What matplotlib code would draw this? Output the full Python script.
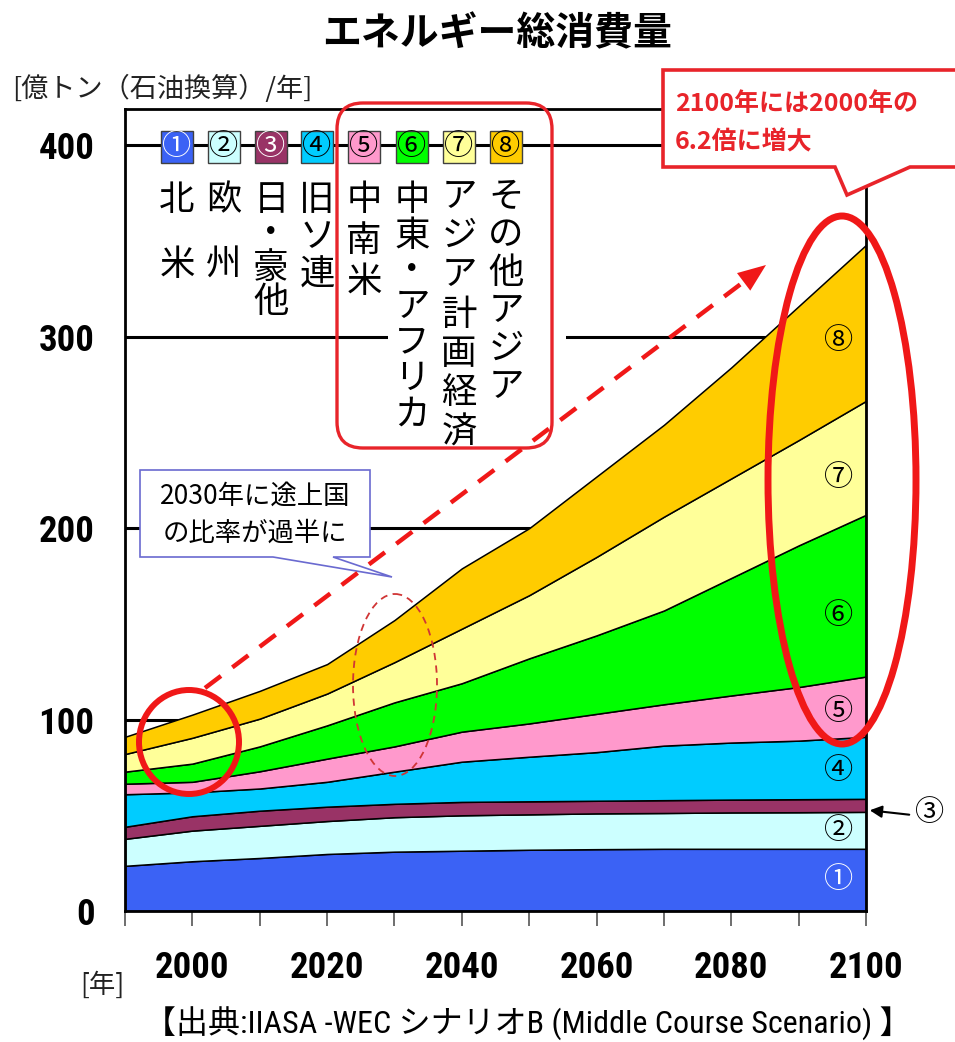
import matplotlib
matplotlib.use('Agg')
import matplotlib.pyplot as plt
import numpy as np
from matplotlib.patches import Rectangle, Polygon, Ellipse, FancyBboxPatch
from matplotlib import font_manager as fm

# ---------------- data (億トン石油換算/年) ----------------
years = [1990, 2000, 2010, 2020, 2030, 2040, 2050, 2060, 2070, 2080, 2090, 2100]
north_america = [23.6, 26.0, 27.7, 29.8, 31.0, 31.5, 32.0, 32.3, 32.5, 32.5, 32.5, 32.5]
europe        = [14.1, 16.0, 16.8, 17.2, 18.0, 18.5, 18.5, 18.7, 18.7, 19.0, 19.1, 19.3]
japan_aus     = [6.3, 7.5, 7.9, 7.5, 7.0, 7.0, 6.8, 6.6, 6.7, 6.7, 6.8, 6.8]
former_ussr   = [17.0, 12.5, 11.6, 13.0, 16.8, 21.0, 23.3, 25.4, 28.5, 29.8, 30.6, 32.4]
latin_america = [5.5, 5.5, 9.0, 12.1, 13.2, 15.7, 17.4, 20.0, 21.6, 24.6, 28.0, 31.5]
mideast_africa = [6.3, 9.5, 13.0, 17.4, 23.0, 25.3, 34.0, 41.0, 49.0, 61.4, 74.0, 84.5]
asia_planned  = [9.2, 13.5, 14.5, 16.6, 21.0, 28.5, 33.0, 41.0, 49.0, 52.0, 55.0, 59.5]
other_asia    = [9.0, 12.1, 14.5, 15.4, 22.0, 31.5, 35.0, 42.0, 48.0, 58.0, 70.0, 81.5]

series = [north_america, europe, japan_aus, former_ussr,
          latin_america, mideast_africa, asia_planned, other_asia]
region_names = ['北米', '欧州', '日・豪他', '旧ソ連', '中南米',
                '中東・アフリカ', 'アジア計画経済', 'その他アジア']
marks = ['①', '②', '③', '④', '⑤', '⑥', '⑦', '⑧']
colors = ['#3B62F5', '#CCFFFF', '#993366', '#00CCFF',
          '#FF99CC', '#00FF00', '#FFFF99', '#FFCC00']
mark_colors = ['white', 'black', 'white', 'black', 'black', 'black', 'black', 'black']

ytick_vals = [0, 100, 200, 300, 400]
xtick_major = [2000, 2020, 2040, 2060, 2080, 2100]
xtick_minor = list(range(1990, 2101, 10))

# in-area labels (value position near 2100)
inarea_marks = ['①', '②', '④', '⑤', '⑥', '⑦', '⑧']
inarea_y = [16, 42, 73, 104, 154, 226, 298]
inarea_col = ['white', 'black', 'black', 'black', 'black', 'black', 'black']

CJK = ['Noto Sans CJK JP', 'DejaVu Sans']
installed = {f.name for f in fm.fontManager.ttflist}
narrow_candidates = ['Liberation Sans Narrow', 'Arial Narrow', 'Roboto Condensed',
                     'DejaVu Sans Condensed', 'Open Sans Condensed', 'Noto Sans Condensed']
NARROW = [f for f in narrow_candidates if f in installed]
have_narrow = len(NARROW) > 0
NARROW = NARROW + ['Liberation Sans', 'DejaVu Sans']
plt.rcParams['font.family'] = CJK

W, H = 955, 1042
fig = plt.figure(figsize=(W / 100, H / 100), dpi=100)
fig.patch.set_facecolor('white')

# ---------------- main axes ----------------
L, R, T, B = 125, 866, 109, 911
ax = fig.add_axes([L / W, (H - B) / H, (R - L) / W, (B - T) / H])
ax.set_xlim(1990, 2100)
ax.set_ylim(0, 419)

ax.stackplot(years, *series, colors=colors, edgecolor='black', linewidth=1.1, zorder=2)

for v in ytick_vals[1:]:
    ax.axhline(v, color='black', lw=2.2, zorder=1)

for sp in ax.spines.values():
    sp.set_linewidth(2.0)
    sp.set_color('black')
    sp.set_zorder(3)

tick_fs = 26.5 if have_narrow else 23
ax.set_xticks(xtick_major)
ax.set_xticks(xtick_minor, minor=True)
ax.set_xticklabels([str(y) for y in xtick_major])
ax.tick_params(axis='x', which='both', direction='out', length=11, width=1.2,
               color='#555555', pad=17)
ax.set_yticks(ytick_vals)
ax.set_yticklabels([str(v) for v in ytick_vals])
ax.tick_params(axis='y', length=0, pad=22)
for lab in ax.get_xticklabels() + ax.get_yticklabels():
    lab.set_family(NARROW)
    lab.set_fontweight('bold')
    lab.set_fontsize(tick_fs)

for m, yv, c in zip(inarea_marks, inarea_y, inarea_col):
    ax.text(2096, yv, m, ha='center', va='center', fontsize=21, color=c,
            family=CJK, zorder=4)

# ---------------- overlay in pixel coordinates ----------------
ov = fig.add_axes([0, 0, 1, 1], zorder=5)
ov.set_xlim(0, W)
ov.set_ylim(H, 0)
ov.axis('off')
ov.patch.set_alpha(0)

# title & axis captions
ov.text(497, 34, 'エネルギー総消費量', ha='center', va='center', fontsize=28,
        fontweight='bold', family=CJK)
ov.text(12, 89, '[億トン（石油換算）/年]', ha='left', va='center', fontsize=19.5,
        family=CJK, color='#222222')
ov.text(102, 985, '[年]', ha='center', va='center', fontsize=19, family=CJK,
        color='#222222')
ov.text(528, 1024, '【出典:IIASA -WEC シナリオB (Middle Course Scenario) 】',
        ha='center', va='center', fontsize=23,
        family=[NARROW[0], 'Noto Sans CJK JP'])

# white backing behind the long vertical labels
ov.add_patch(Rectangle((388, 178), 178, 280, facecolor='white', edgecolor='none', zorder=1))

# legend squares
leg_x = [177, 224, 271, 317, 364, 412, 459, 506]
for x, c, m, mc in zip(leg_x, colors, marks, mark_colors):
    ov.add_patch(Rectangle((x - 16, 131), 32, 32, facecolor=c, edgecolor='#404040',
                           lw=1.0, zorder=3))
    ov.text(x, 147, m, ha='center', va='center', fontsize=21, color=mc,
            family=CJK, zorder=4)

# vertical region labels
lab_y0 = [200, 200, 200, 200, 200, 200, 197, 197]
lab_step = [65, 65, 34, 37.5, 41, 35.7, 39.2, 38]
for name, x, y0, st in zip(region_names, leg_x, lab_y0, lab_step):
    for i, ch in enumerate(name):
        ov.text(x, y0 + i * st, ch, ha='center', va='center', fontsize=25.5,
                family=CJK, zorder=4)

# red rounded box around developing regions
ov.add_patch(FancyBboxPatch((337, 103), 215, 345,
                            boxstyle='round,pad=0,rounding_size=26',
                            facecolor='none', edgecolor='#E8242A', lw=2.4, zorder=3))

# red callout at top right
call = [(663, 70), (965, 70), (965, 167), (910, 167), (847, 195), (835, 167), (663, 167)]
ov.add_patch(Polygon(call, closed=True, facecolor='white', edgecolor='#E8242A',
                     lw=2.6, zorder=6))
ov.text(675, 104, '2100年には2000年の', ha='left', va='center', fontsize=18,
        fontweight='bold', color='#E8242A', family=CJK, zorder=7)
ov.text(675, 142, '6.2倍に増大', ha='left', va='center', fontsize=18,
        fontweight='bold', color='#E8242A', family=CJK, zorder=7)

# blue callout
bcall = [(140, 470), (370, 470), (370, 557), (333, 557), (392, 577), (273, 557), (140, 557)]
ov.add_patch(Polygon(bcall, closed=True, facecolor='white', edgecolor='#6A6AD0',
                     lw=1.2, zorder=6))
ov.text(255, 496, '2030年に途上国', ha='center', va='center', fontsize=19,
        family=CJK, zorder=7)
ov.text(255, 533, 'の比率が過半に', ha='center', va='center', fontsize=19,
        family=CJK, zorder=7)

# dashed red arrow
x0, y0, x1, y1 = 205, 688, 766, 265
d = np.array([x1 - x0, y1 - y0], dtype=float)
u = d / np.hypot(*d)
n = np.array([-u[1], u[0]])
hl, hw = 28, 11
base = np.array([x1, y1]) - u * hl
ov.plot([x0, base[0]], [y0, base[1]], color='#F01818', lw=3.2, ls=(0, (4.5, 3.2)),
        zorder=6, solid_capstyle='butt')
ov.add_patch(Polygon([(x1, y1), tuple(base + n * hw), tuple(base - n * hw)],
                     closed=True, facecolor='#F01818', edgecolor='none', zorder=6))

# ellipses
ov.add_patch(Ellipse((842, 480), 148, 528, facecolor='none', edgecolor='#F01818',
                     lw=5.0, zorder=6))
ov.add_patch(Ellipse((189, 742), 100, 104, facecolor='none', edgecolor='#F01818',
                     lw=4.3, zorder=6))
ov.add_patch(Ellipse((395, 685), 84, 182, facecolor='none', edgecolor='#D03535',
                     lw=1.3, ls=(0, (4, 3)), zorder=6))

# ③ pointer
ov.annotate('', xy=(867, 810), xytext=(912, 815),
            arrowprops=dict(arrowstyle='-|>', color='black', lw=1.5,
                            mutation_scale=18), zorder=6)
ov.text(930, 813, '③', ha='center', va='center', fontsize=21, family=CJK, zorder=6)

fig.savefig('out.png', dpi=100, facecolor='white')
